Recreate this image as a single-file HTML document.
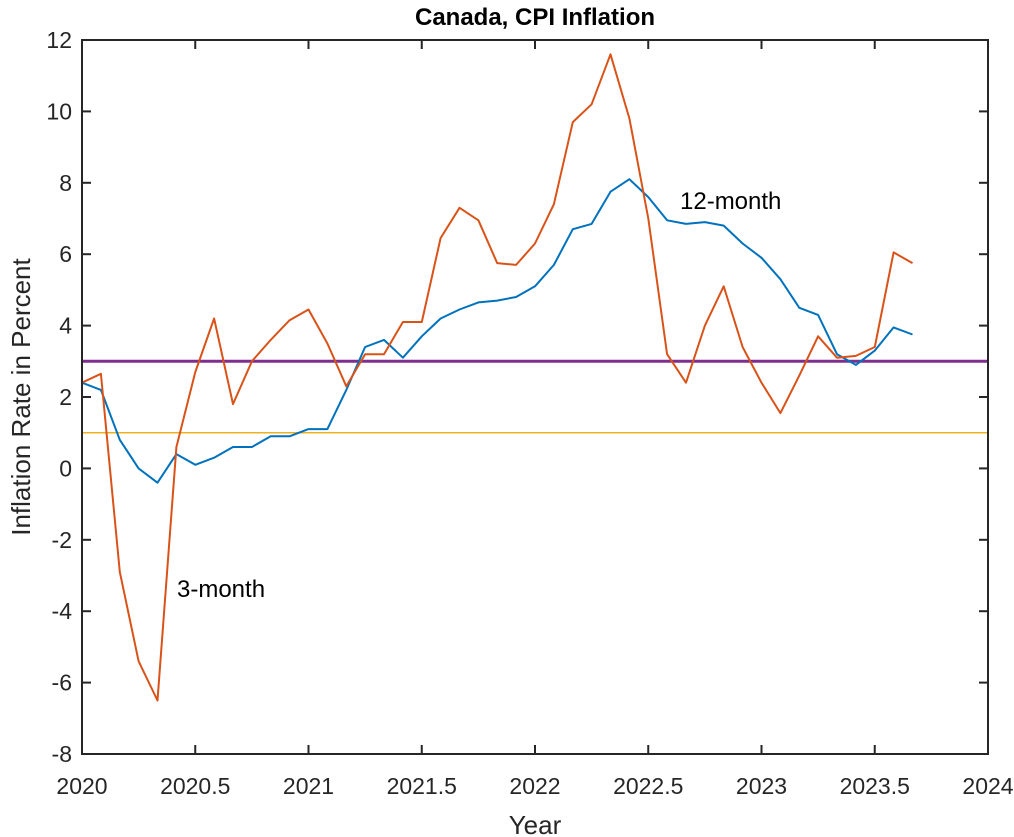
<!DOCTYPE html>
<html><head><meta charset="utf-8"><style>
html,body{margin:0;padding:0;background:#fff;}
svg{display:block;font-family:"Liberation Sans",Arial,sans-serif;}
</style></head><body>
<svg id="chart" width="1014" height="837" viewBox="0 0 1014 837" xmlns="http://www.w3.org/2000/svg">
<rect width="1014" height="837" fill="#fff"/>
<text x="535" y="25" text-anchor="middle" font-size="24" font-weight="bold" fill="#000">Canada, CPI Inflation</text>
<g id="plot"></g>
<text x="535" y="834" text-anchor="middle" font-size="26" fill="#262626">Year</text>
<text transform="translate(30,397) rotate(-90)" text-anchor="middle" font-size="26" fill="#262626">Inflation Rate in Percent</text>
<text x="680" y="209" font-size="24" fill="#000">12-month</text>
<text x="177" y="597" font-size="24" fill="#000">3-month</text>
</svg>
<script>
const xTicks = [2020, 2020.5, 2021, 2021.5, 2022, 2022.5, 2023, 2023.5, 2024];
const xTickLabels = ["2020","2020.5","2021","2021.5","2022","2022.5","2023","2023.5","2024"];
const yTicks = [-8,-6,-4,-2,0,2,4,6,8,10,12];
const startYear = 2020;
const twelveMonth = [2.4,2.2,0.8,0.0,-0.4,0.4,0.1,0.3,0.6,0.6,0.9,0.9,1.1,1.1,2.2,3.4,3.6,3.1,3.7,4.2,4.45,4.65,4.7,4.8,5.1,5.7,6.7,6.85,7.75,8.1,7.6,6.95,6.85,6.9,6.8,6.3,5.9,5.3,4.5,4.3,3.2,2.9,3.3,3.95,3.75];
const threeMonth = [2.4,2.65,-2.9,-5.4,-6.5,0.6,2.7,4.2,1.8,3.0,3.6,4.15,4.45,3.5,2.3,3.2,3.2,4.1,4.1,6.45,7.3,6.95,5.75,5.7,6.3,7.4,9.7,10.2,11.6,9.8,7.0,3.2,2.4,4.0,5.1,3.4,2.4,1.55,2.6,3.7,3.1,3.15,3.4,6.05,5.75];
const refUpper = 3;
const refLower = 1;

const X0=82, X1=988, Y0=754, Y1=40;
const xS = v => X0 + (v-2020)/4*(X1-X0);
const yS = v => Y0 - (v+8)/20*(Y0-Y1);
const NS="http://www.w3.org/2000/svg";
const plot=document.getElementById('plot');
function mk(tag, attrs){const e=document.createElementNS(NS,tag);for(const k in attrs)e.setAttribute(k,attrs[k]);plot.appendChild(e);return e;}

let l1=mk('line',{x1:X0,x2:X1,y1:yS(refLower),y2:yS(refLower),stroke:'#EDB120','stroke-width':1.5});


let l3=mk('line',{x1:X0,x2:X1,y1:yS(refUpper),y2:yS(refUpper),stroke:'#7E2F8E','stroke-width':3});



function series(arr,color,name){
  const pts=arr.map((v,i)=>xS(startYear+i/12).toFixed(1)+','+yS(v).toFixed(1)).join(' ');
  const p=mk('polyline',{points:pts,fill:'none',stroke:color,'stroke-width':2,'stroke-linejoin':'round'});
  
  
}
series(twelveMonth,'#0072BD','series-12-month');
series(threeMonth,'#D95319','series-3-month');

const box=mk('rect',{x:X0,y:Y1,width:X1-X0,height:Y0-Y1,fill:'none',stroke:'#262626','stroke-width':2});



xTicks.forEach((t,i)=>{
  const x=xS(t);
  mk('line',{x1:x,x2:x,y1:Y0,y2:Y0-9,stroke:'#262626','stroke-width':2});
  mk('line',{x1:x,x2:x,y1:Y1,y2:Y1+9,stroke:'#262626','stroke-width':2});
  const tx=mk('text',{x:x,y:794,'text-anchor':'middle','font-size':23,fill:'#262626'});
  tx.textContent=xTickLabels[i];
  
  
});
yTicks.forEach(t=>{
  const y=yS(t);
  mk('line',{x1:X0,x2:X0+9,y1:y,y2:y,stroke:'#262626','stroke-width':2});
  mk('line',{x1:X1,x2:X1-9,y1:y,y2:y,stroke:'#262626','stroke-width':2});
  const tx=mk('text',{x:X0-10,y:y+8,'text-anchor':'end','font-size':23,fill:'#262626'});
  tx.textContent=String(t);
  
  
});
</script>
</body></html>
